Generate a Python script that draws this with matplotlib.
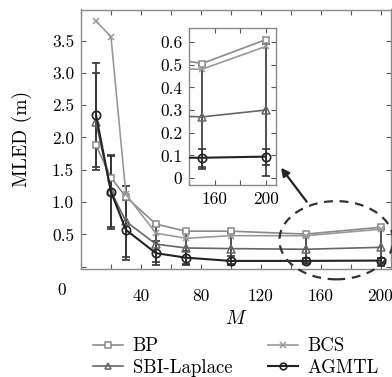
import matplotlib
matplotlib.use("Agg")
import matplotlib.pyplot as plt
from matplotlib.patches import Ellipse

plt.rcParams['font.family'] = ['cmr10', 'DejaVu Serif']
plt.rcParams['mathtext.fontset'] = 'cm'
plt.rcParams['axes.formatter.use_mathtext'] = True

M = [10, 20, 30, 50, 70, 100, 150, 200]
BP = [1.88, 1.38, 1.08, 0.66, 0.55, 0.55, 0.505, 0.61]
BCS = [3.80, 3.56, 1.12, 0.52, 0.44, 0.48, 0.48, 0.58]
SBI = [2.24, 1.17, 0.70, 0.35, 0.29, 0.28, 0.27, 0.30]
AGMTL = [2.35, 1.16, 0.57, 0.21, 0.14, 0.09, 0.09, 0.095]
SBI_err = [0.75, 0.55, 0.55, 0.28, 0.25, 0.24, 0.23, 0.29]
AGMTL_err = [0.80, 0.57, 0.47, 0.19, 0.11, 0.07, 0.04, 0.035]

main_xticks = [0, 20, 40, 60, 80, 100, 120, 140, 160, 180, 200]
main_xlabels = ['', '', '40', '', '80', '', '120', '', '160', '', '200']
main_yticks = [0, 0.5, 1.0, 1.5, 2.0, 2.5, 3.0, 3.5]
main_ylabels = ['', '0.5', '1.0', '1.5', '2.0', '2.5', '3.0', '3.5']
ins_xticks = [140, 160, 180, 200]
ins_xlabels = ['', '160', '', '200']
ins_yticks = [0, 0.1, 0.2, 0.3, 0.4, 0.5, 0.6]
ins_ylabels = ['0', '0.1', '0.2', '0.3', '0.4', '0.5', '0.6']

W, H = 392, 377
fig = plt.figure(figsize=(W / 100, H / 100), dpi=100)

def px(x0, y0, x1, y1):
    return [x0 / W, 1 - y1 / H, (x1 - x0) / W, (y1 - y0) / H]

c_bp = '#8a8a8a'
c_bcs = '#9a9a9a'
c_sbi = '#666666'
c_ag = '#222222'
c_err = '#333333'
spine_c = '#8a8a8a'

def draw(ax, ms=5, lw=1.2):
    ax.errorbar(M, SBI, yerr=SBI_err, fmt='none', ecolor=c_err, elinewidth=1.2,
                capsize=3, capthick=1.2, zorder=2)
    ax.errorbar(M, AGMTL, yerr=AGMTL_err, fmt='none', ecolor=c_err, elinewidth=1.2,
                capsize=3, capthick=1.2, zorder=2)
    l1, = ax.plot(M, BP, '-', color=c_bp, marker='s', mfc='white', mec=c_bp,
                  ms=ms, lw=lw, mew=1.1, zorder=3, label='BP')
    l2, = ax.plot(M, BCS, '-', color=c_bcs, marker='x', mec=c_bcs,
                  ms=ms, lw=lw, mew=1.1, zorder=3, label='BCS')
    l3, = ax.plot(M, SBI, '-', color=c_sbi, marker='^', mfc='none', mec=c_sbi,
                  ms=ms + 1, lw=lw, mew=1.1, zorder=3, label='SBI-Laplace')
    l4, = ax.plot(M, AGMTL, '-', color=c_ag, marker='o', mfc='none', mec=c_ag,
                  ms=ms + 1, lw=lw + 0.3, mew=1.2, zorder=4, label='AGMTL')
    return l1, l2, l3, l4

def style(ax):
    for s in ax.spines.values():
        s.set_color(spine_c)
        s.set_linewidth(1.0)
    ax.tick_params(direction='in', top=True, right=True, length=3.5,
                   width=0.8, color='#555555', labelsize=12.5, pad=5)

ax = fig.add_axes(px(81, 9.5, 391, 269.3))
l1, l2, l3, l4 = draw(ax)
ax.set_xlim(0, 207)
ax.set_ylim(-0.04, 3.98)
ax.set_xticks(main_xticks)
ax.set_xticklabels(main_xlabels)
ax.set_yticks(main_yticks)
ax.set_yticklabels(main_ylabels)
style(ax)
ax.tick_params(axis='x', pad=14)
ax.set_xlabel('$M$', fontsize=14, labelpad=4)
ax.set_ylabel('MLED (m)', fontsize=14, labelpad=14)
fig.text(62 / W, 1 - 290 / H, '0', fontsize=12.5, ha='center', va='center')

ell = Ellipse((170.5, 0.41), 76, 1.21, fill=False, ls=(0, (4, 3)), lw=1.6,
              ec='#333333', clip_on=False, zorder=5)
ax.add_patch(ell)

ax.annotate('', xy=(281 / W, 1 - 167.7 / H), xycoords='figure fraction',
            xytext=(306.7 / W, 1 - 201.7 / H), textcoords='figure fraction',
            arrowprops=dict(arrowstyle='-|>', color='#222222', lw=1.6,
                            mutation_scale=12, shrinkA=0, shrinkB=0))

axi = fig.add_axes(px(189.3, 28.3, 276, 185))
axi.set_facecolor('white')
draw(axi)
axi.set_xlim(140, 208)
axi.set_ylim(-0.03, 0.66)
axi.set_xticks(ins_xticks)
axi.set_xticklabels(ins_xlabels)
axi.set_yticks(ins_yticks)
axi.set_yticklabels(ins_ylabels)
style(axi)

fig.legend([l1, l3, l2, l4], ['BP', 'SBI-Laplace', 'BCS', 'AGMTL'], ncol=2,
           loc='center', bbox_to_anchor=(236 / W, 1 - 357 / H), frameon=False,
           fontsize=13.5, handlelength=1.6, columnspacing=1.9, handletextpad=0.5,
           labelspacing=0.2, markerscale=0.8)

fig.savefig('out.png', dpi=100)
